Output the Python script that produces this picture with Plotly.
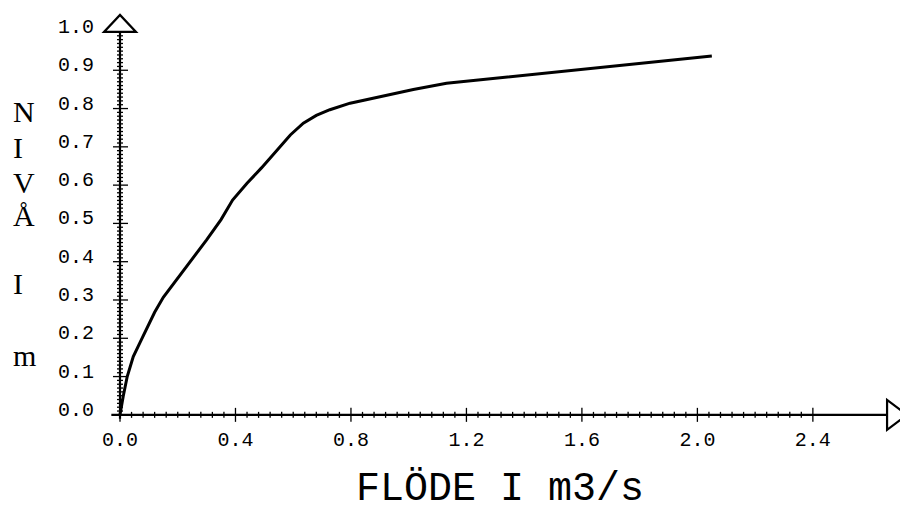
import plotly.graph_objects as go
import numpy as np

# ---- data ----
flow = [0, 0.005, 0.011, 0.025, 0.046, 0.07, 0.09, 0.12, 0.15, 0.231, 0.30, 0.35, 0.39,
        0.44, 0.49, 0.59, 0.635, 0.68, 0.727, 0.797, 0.90, 1.016, 1.131, 1.247, 1.362,
        1.478, 1.594, 1.69, 1.84, 2.05]
level = [0, 0.025, 0.048, 0.10, 0.152, 0.19, 0.222, 0.268, 0.307, 0.387, 0.457, 0.51, 0.561,
         0.605, 0.645, 0.731, 0.762, 0.782, 0.797, 0.814, 0.831, 0.850, 0.866, 0.875, 0.885,
         0.894, 0.903, 0.911, 0.922, 0.937]
x_ticks = [0.0, 0.4, 0.8, 1.2, 1.6, 2.0, 2.4]
y_ticks = [0.0, 0.1, 0.2, 0.3, 0.4, 0.5, 0.6, 0.7, 0.8, 0.9, 1.0]
x_minor_step = 0.04
y_minor_step = 0.01
x_title = "FLÖDE I m3/s"
y_title_letters = ["N", "I", "V", "Å", "I", "m"]

# ---- geometry ----
W, H = 900, 511
ML, MR, MT, MB = 95, 0, 9, 77
XR = [-0.0866, 2.7018]
YR = [-0.05, 1.06]
pw, ph = W - ML - MR, H - MT - MB
pxx = pw / (XR[1] - XR[0])   # px per x unit
pxy = ph / (YR[1] - YR[0])   # px per y unit
x_axis_end = 2.657

def paper_x(px):
    return (px - ML) / pw

def paper_y(py):
    return (H - MB - py) / ph

fig = go.Figure()

# tick marks built from tick arrays
tx, ty = [], []
for v in y_ticks[:-1]:
    tx += [-7 / pxx, 8 / pxx, None]; ty += [v, v, None]
for v in np.arange(0, 1.0001, y_minor_step):
    if abs(v * 10 - round(v * 10)) > 1e-6:
        tx += [-3 / pxx, 3 / pxx, None]; ty += [v, v, None]
for v in x_ticks:
    tx += [v, v, None]; ty += [-7 / pxy, 7 / pxy, None]
for v in np.arange(0, x_ticks[-1] + 1e-6, x_minor_step):
    if abs(v / 0.4 - round(v / 0.4)) > 1e-6:
        tx += [v, v, None]; ty += [-3 / pxy, 3 / pxy, None]
fig.add_trace(go.Scatter(x=tx, y=ty, mode="lines", line=dict(color="black", width=1.3),
                         hoverinfo="skip", showlegend=False))

# axis lines
fig.add_trace(go.Scatter(x=[-0.03, x_axis_end], y=[0, 0], mode="lines",
                         line=dict(color="black", width=2.2), hoverinfo="skip", showlegend=False))
fig.add_trace(go.Scatter(x=[0, 0], y=[-0.01, 1.0], mode="lines",
                         line=dict(color="black", width=2.2), hoverinfo="skip", showlegend=False))

# arrows (hollow triangles)
ah = 16 / pxx
fig.add_shape(type="path", xref="x", yref="y",
              path=f"M {-ah} 1.0 L {ah} 1.0 L 0 {1.0 + 17 / pxy} Z",
              line=dict(color="black", width=2.2), fillcolor="rgba(0,0,0,0)")
fig.add_shape(type="path", xref="x", yref="y",
              path=f"M {x_axis_end} {-15 / pxy} L {x_axis_end} {15 / pxy} L {x_axis_end + 20 / pxx} 0 Z",
              line=dict(color="black", width=2.2), fillcolor="rgba(0,0,0,0)")

# curve
fig.add_trace(go.Scatter(x=flow, y=level, mode="lines", line=dict(color="black", width=3),
                         hoverinfo="skip", showlegend=False))

tickfont = dict(family="Liberation Mono", size=20, color="black")
fig.update_xaxes(range=XR, showgrid=False, zeroline=False, showline=False, ticks="",
                 tickvals=x_ticks, tickformat=".1f", tickfont=tickfont, ticklabelstandoff=-9)
fig.update_yaxes(range=YR, showgrid=False, zeroline=False, showline=False, ticks="",
                 tickvals=y_ticks, tickformat=".1f", tickfont=tickfont, ticklabelshift=-6)

ann = [dict(text=x_title, x=paper_x(500), y=paper_y(489), xref="paper", yref="paper",
            showarrow=False, xanchor="center", yanchor="middle",
            font=dict(family="Liberation Mono", size=40, color="black"))]
letter_y = [112, 147, 182, 215, 284, 355]
for ch, py in zip(y_title_letters, letter_y):
    ann.append(dict(text=ch, x=paper_x(11), y=paper_y(py), xref="paper", yref="paper",
                    showarrow=False, xanchor="left", yanchor="middle",
                    font=dict(family="Liberation Serif", size=30, color="black")))

fig.update_layout(width=W, height=H, margin=dict(l=ML, r=MR, t=MT, b=MB),
                  paper_bgcolor="white", plot_bgcolor="white", annotations=ann,
                  showlegend=False)
fig.write_html("out.html", config={"displayModeBar": False},
               post_script="document.body.style.margin='0px';")
